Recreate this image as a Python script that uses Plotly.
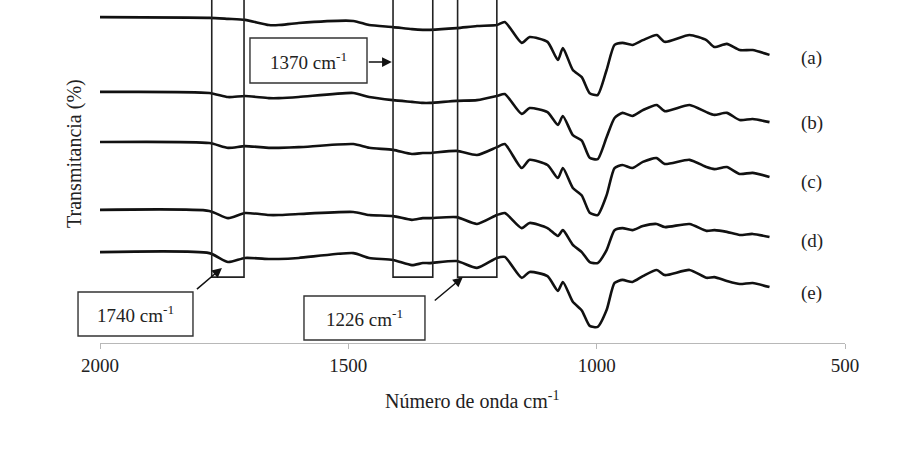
import plotly.graph_objects as go

# Wavenumbers (cm-1) shared by all spectra
wavenumber = [2000, 1780, 1742, 1708, 1660, 1640, 1600, 1490, 1458, 1410, 1372, 1350, 1336,
              1282, 1241, 1201, 1185, 1151, 1135, 1099, 1078, 1068, 1048, 1030, 1014, 998,
              980, 964, 948, 928, 907, 879, 863, 813, 779, 763, 738, 712, 686, 652]

# Transmittance (%) of each spectrum (offset stacked)
spec_a = [95.0, 94.8, 94.5, 94.2, 92.7, 92.7, 93.3, 93.9, 92.7, 92.1, 91.5, 91.3, 91.3,
          91.8, 92.4, 92.7, 93.6, 87.5, 89.2, 87.8, 82.5, 86.0, 79.6, 77.5, 72.8, 72.3,
          79.6, 86.9, 87.5, 86.9, 88.3, 89.8, 87.8, 89.8, 88.3, 86.3, 87.2, 85.4, 85.4, 84.0]
spec_b = [73.2, 72.9, 71.7, 72.0, 71.4, 71.4, 71.7, 72.9, 71.7, 70.8, 70.3, 70.0, 70.0,
          70.6, 70.8, 72.0, 72.6, 66.8, 68.5, 67.3, 63.6, 66.2, 60.6, 59.0, 54.0, 53.6,
          60.0, 65.6, 67.1, 66.2, 67.9, 69.4, 67.6, 69.4, 67.3, 66.5, 67.1, 65.0, 65.3, 64.4]
spec_c = [58.6, 58.3, 56.9, 57.4, 56.9, 56.9, 57.1, 58.0, 56.9, 56.3, 55.1, 55.4, 55.4,
          56.0, 54.8, 57.1, 58.0, 51.0, 53.4, 51.9, 48.1, 51.0, 45.2, 43.0, 38.0, 37.3,
          43.1, 51.0, 51.9, 51.0, 52.8, 53.9, 52.2, 53.4, 51.3, 50.7, 51.3, 49.3, 49.6, 48.4]
spec_d = [38.8, 38.5, 36.4, 37.9, 37.3, 37.3, 37.6, 38.2, 37.3, 37.0, 35.9, 36.4, 36.4,
          36.7, 34.7, 37.3, 37.9, 33.5, 35.0, 33.5, 31.2, 32.9, 28.6, 26.5, 23.6, 23.3,
          27.1, 32.9, 33.5, 32.9, 34.1, 34.7, 33.8, 34.7, 32.7, 32.9, 32.4, 31.5, 31.8, 30.9]
spec_e = [26.5, 26.2, 23.6, 24.8, 24.5, 24.5, 24.8, 26.2, 24.8, 24.2, 22.7, 23.3, 23.3,
          23.9, 21.9, 24.8, 25.1, 19.0, 20.7, 19.5, 15.2, 17.8, 12.0, 9.5, 5.0, 4.7,
          9.6, 17.5, 18.4, 17.8, 19.5, 21.3, 19.8, 21.3, 19.0, 19.2, 18.1, 17.2, 17.5, 16.3]

series_labels = ["(a)", "(b)", "(c)", "(d)", "(e)"]
label_y = [83.1, 64.1, 46.9, 29.7, 14.6]
label_x = 567

x_ticks = [2000, 1500, 1000, 500]

# Highlighted band regions (cm-1)
band_left = [1775, 1410, 1280]
band_right = [1710, 1330, 1201]
band_bottom = 19.2

band_names = ["1740 cm<sup>-1</sup>", "1370 cm<sup>-1</sup>", "1226 cm<sup>-1</sup>"]

FONT = "Liberation Serif, Times New Roman, serif"

fig = go.Figure()
for ys in [spec_a, spec_b, spec_c, spec_d, spec_e]:
    fig.add_trace(go.Scatter(x=wavenumber, y=ys, mode="lines",
                             line=dict(color="#111111", width=2.6, shape="spline", smoothing=0.6),
                             showlegend=False, hoverinfo="skip"))

shapes = []
for l, r in zip(band_left, band_right):
    shapes.append(dict(type="rect", xref="x", yref="y", x0=l, x1=r, y0=band_bottom, y1=110,
                       line=dict(color="#222222", width=1.6), fillcolor="rgba(0,0,0,0)"))

# label boxes (paper coords)
label_boxes = [
    (-0.0295, 0.1248, 0.0204, 0.1487),   # 1740
    (0.2013, 0.3584, 0.758, 0.889),      # 1370
    (0.2738, 0.4362, 0.0087, 0.137),     # 1226
]
for x0, x1, y0, y1 in label_boxes:
    shapes.append(dict(type="rect", xref="paper", yref="paper", x0=x0, x1=x1, y0=y0, y1=y1,
                       line=dict(color="#333333", width=1.4), fillcolor="white"))

annotations = []
for (x0, x1, y0, y1), name in zip(label_boxes, band_names):
    annotations.append(dict(x=(x0 + x1) / 2, y=(y0 + y1) / 2, xref="paper", yref="paper",
                            xanchor="center", yanchor="middle",
                            text=name, showarrow=False, font=dict(family=FONT, size=19, color="#222")))

# arrows: (head x, head y, ax, ay)
arrows = [(1754.5, 21.9, -27, 23), (1412.5, 81.9, -25, 0), (1269.6, 19.2, -30, 25)]
for hx, hy, ax, ay in arrows:
    annotations.append(dict(x=hx, y=hy, xref="x", yref="y", ax=ax, ay=ay, text=" ",
                            showarrow=True, arrowhead=2, arrowsize=1.3, arrowwidth=1.5,
                            arrowcolor="#111111", standoff=0, font=dict(size=2)))

for lab, ly in zip(series_labels, label_y):
    annotations.append(dict(x=label_x, y=ly, xref="x", yref="y", text=lab, showarrow=False,
                            xanchor="center", yanchor="middle",
                            font=dict(family=FONT, size=19, color="#222")))

annotations.append(dict(x=-0.0336, y=0.554, xref="paper", yref="paper", text="Transmitancia (%)",
                        xanchor="center", yanchor="middle",
                        textangle=-90, showarrow=False, font=dict(family=FONT, size=20, color="#222")))
annotations.append(dict(x=0.4993, y=-0.166, xref="paper", yref="paper", text="Número de onda cm<sup>-1</sup>",
                        xanchor="center", yanchor="middle",
                        showarrow=False, font=dict(family=FONT, size=20, color="#222")))

fig.update_layout(
    width=900, height=450,
    margin=dict(l=100, r=55, t=0, b=107, autoexpand=False),
    paper_bgcolor="white", plot_bgcolor="white",
    shapes=shapes, annotations=annotations,
    xaxis=dict(range=[2000, 500], tickvals=x_ticks, ticktext=[str(v) for v in x_ticks],
               showgrid=False, zeroline=False, showline=True, linecolor="#b8b8b8", linewidth=1.2,
               ticks="outside", ticklen=5, tickcolor="#b8b8b8",
               tickfont=dict(family=FONT, size=19, color="#222")),
    yaxis=dict(range=[0, 100], showgrid=False, zeroline=False, showline=False,
               showticklabels=False, ticks=""),
)

fig.write_html("out.html", config={"displayModeBar": False},
               post_script="document.body.style.margin='0px';")
